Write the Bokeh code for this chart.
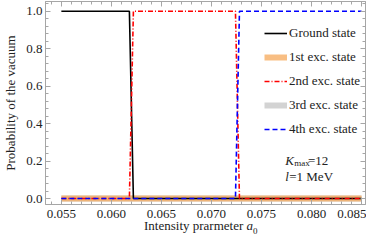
from bokeh.plotting import figure
from bokeh.models import (Range1d, LinearAxis, FixedTicker, Legend, LegendItem, Label, Div)
from bokeh.layouts import column
from bokeh.embed import file_html
from bokeh.resources import INLINE

# ---- data ----
ground_x = [0.055, 0.0618, 0.0622, 0.085]
ground_y = [1, 1, 0, 0]
exc1_x = [0.055, 0.085]
exc1_y = [0, 0]
exc2_x = [0.055, 0.0618, 0.0622, 0.0724, 0.0728, 0.085]
exc2_y = [0, 0, 1, 1, 0, 0]
exc3_x = [0.055, 0.085]
exc3_y = [0, 0]
exc4_x = [0.055, 0.0724, 0.0728, 0.085]
exc4_y = [0, 0, 1, 1]

x_ticks = [0.055, 0.060, 0.065, 0.070, 0.075, 0.080, 0.085]
x_tick_labels = ["0.055", "0.060", "0.065", "0.070", "0.075", "0.080", "0.085"]
y_ticks = [0.0, 0.2, 0.4, 0.6, 0.8, 1.0]
y_tick_labels = ["0.0", "0.2", "0.4", "0.6", "0.8", "1.0"]
x_minor = [round(0.053 + 0.001 * i, 4) for i in range(34)]
y_minor = [round(-0.04 + 0.04 * i, 3) for i in range(28)]

legend_names = ["Ground state", "1st exc. state", "2nd exc. state", "3rd exc. state", "4th exc. state"]

SERIF = "Liberation Serif"
FRAME = "#a6a6a6"
TEXT = "#222222"

p = figure(width=366, height=220, output_backend="svg", toolbar_location=None,
           x_range=Range1d(0.053416, 0.085396), y_range=Range1d(-0.032, 1.0518),
           min_border_left=42, min_border_right=1, min_border_top=1, min_border_bottom=16)
p.grid.visible = False
p.outline_line_color = FRAME
p.background_fill_color = "white"
p.border_fill_color = "white"


def style_axis(ax, ticks, labels, show_labels=True):
    ax.ticker = FixedTicker(ticks=ticks, minor_ticks=(x_minor if ticks is x_ticks else y_minor))
    ax.major_label_overrides = {t: l for t, l in zip(ticks, labels)}
    ax.axis_line_color = FRAME
    ax.major_tick_line_color = FRAME
    ax.minor_tick_line_color = FRAME
    ax.major_tick_in = 5
    ax.major_tick_out = 0
    ax.minor_tick_in = 3
    ax.minor_tick_out = 0
    ax.major_label_text_font = SERIF
    ax.major_label_text_font_size = "13px"
    ax.major_label_text_color = TEXT
    if not show_labels:
        ax.major_label_text_font_size = "1px"
        ax.major_label_text_color = None
        ax.major_label_standoff = 0


style_axis(p.xaxis[0], x_ticks, x_tick_labels)
style_axis(p.yaxis[0], y_ticks, y_tick_labels)
p.xaxis[0].major_label_standoff = 5
p.yaxis[0].major_label_standoff = 3
p.yaxis[0].axis_label = "Probability of the vacuum"
p.yaxis[0].axis_label_text_font = SERIF
p.yaxis[0].axis_label_text_font_style = "normal"
p.yaxis[0].axis_label_text_font_size = "13px"
p.yaxis[0].axis_label_text_color = TEXT
p.yaxis[0].axis_label_standoff = 5

top = LinearAxis()
style_axis(top, x_ticks, x_tick_labels, show_labels=False)
p.add_layout(top, "above")
right = LinearAxis()
style_axis(right, y_ticks, y_tick_labels, show_labels=False)
p.add_layout(right, "right")

# ---- lines ----
r3 = p.line(exc3_x, exc3_y, line_color="#d3d3d3", line_width=6)
r1 = p.line(exc1_x, exc1_y, line_color="#f5a85a", line_width=6, line_alpha=0.75)
r0 = p.line(ground_x, ground_y, line_color="black", line_width=1.6)
r2 = p.line(exc2_x, exc2_y, line_color="#ff0000", line_width=1.6, line_dash="5 2 1 2")
r4 = p.line(exc4_x, exc4_y, line_color="#0000ff", line_width=1.6, line_dash="5 3")

legend = Legend(items=[LegendItem(label=n, renderers=[r]) for n, r in
                       zip(legend_names, [r0, r1, r2, r3, r4])],
                location=(219, 65), margin=0, padding=0, spacing=4,
                glyph_width=23, glyph_height=20, label_height=20, label_standoff=2,
                label_text_font=SERIF, label_text_font_size="13px",
                label_text_color=TEXT,
                background_fill_alpha=0, border_line_alpha=0)
p.add_layout(legend)


# ---- text annotations (figure px -> data) ----
def dx(px):
    return 0.055 + (px - 58) / 10100.0


def dy(py):
    return (198 - py) / 187.3


def lab(text, px, py, size="13px", style="normal", align="left"):
    p.add_layout(Label(x=dx(px), y=dy(py), text=text, text_font=SERIF,
                       text_font_size=size, text_font_style=style,
                       text_color=TEXT, text_align=align,
                       text_baseline="alphabetic"))


lab("K", 284, 160, style="italic")
lab("max", 293, 162, size="9px")
lab("=12", 307, 160)
lab("l", 284, 176, style="italic")
lab("=1 MeV", 288, 176)

xlabel = Div(text="Intensity prarmeter <i>a</i><sub style='font-size:9px'>0</sub>",
             width=366, height=11, margin=0,
             styles={"font-family": "'Liberation Serif', serif", "font-size": "13px",
                     "color": TEXT, "padding-left": "144px", "line-height": "11px"})

layout = column(p, xlabel, spacing=0)
open("out.html", "w").write(file_html(layout, INLINE))
